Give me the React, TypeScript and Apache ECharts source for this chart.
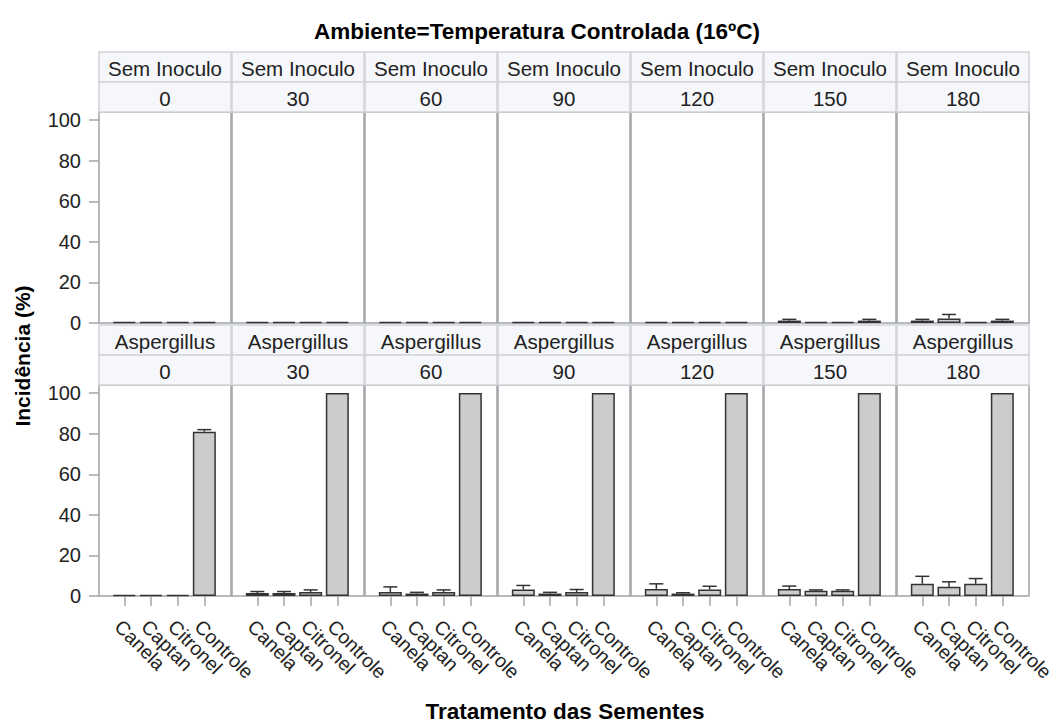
import React, { useEffect, useRef } from "react";
import * as echarts from "echarts";

const titulo = "Ambiente=Temperatura Controlada (16ºC)";
const tituloX = "Tratamento das Sementes";
const tituloY = "Incidência (%)";
const dias = [0, 30, 60, 90, 120, 150, 180];
const inoculos = ["Sem Inoculo", "Aspergillus"];
const tratamentos = ["Canela", "Captan", "Citronel", "Controle"];
const yTicks = [0, 20, 40, 60, 80, 100];

// médias por dia (linhas) e tratamento (colunas)
const semInoculoMedia = [
  [0, 0, 0, 0],
  [0, 0, 0, 0],
  [0, 0, 0, 0],
  [0, 0, 0, 0],
  [0, 0, 0, 0],
  [1.2, 0, 0, 1.2],
  [1.2, 2.2, 0, 1.2],
];
// limite superior das barras de erro
const semInoculoSup = [
  [0, 0, 0, 0],
  [0, 0, 0, 0],
  [0, 0, 0, 0],
  [0, 0, 0, 0],
  [0, 0, 0, 0],
  [1.8, 0, 0, 1.8],
  [1.8, 4.2, 0, 1.8],
];
const aspergillusMedia = [
  [0, 0, 0, 81],
  [1.5, 1.5, 2, 100],
  [2, 1.2, 2, 100],
  [3.2, 1.2, 2, 100],
  [3.5, 1.2, 3.2, 100],
  [3.4, 2.6, 2.6, 100],
  [6, 4.6, 6, 100],
];
const aspergillusSup = [
  [0, 0, 0, 82],
  [2.2, 2.2, 3, 100],
  [4.5, 1.8, 3, 100],
  [5.2, 1.8, 3.2, 100],
  [6, 1.6, 4.8, 100],
  [4.9, 3, 3, 100],
  [9.7, 7, 8.6, 100],
];

const FONT = "'Liberation Sans', Arial, sans-serif";
const LEFT0 = 99;
const PANEL_W = 133;
const ROW_TOPS = [112, 385];
const HEADER_TOPS = [52, 325];
const PLOT_H = 211;
const FRAME = "#a0a4a8";
const TICK = "#a3a7ab";
const X_MIN = -0.95;
const X_MAX = 4.0;

export default function App() {
  const ref = useRef<HTMLDivElement>(null);
  useEffect(() => {
    if (!ref.current) return;
    const chart = echarts.init(ref.current, null, { renderer: "svg" });
    const grids: any[] = [];
    const xAxes: any[] = [];
    const labelAxes: any[] = [];
    const yAxes: any[] = [];
    const series: any[] = [];
    const graphics: any[] = [];
    const medias = [semInoculoMedia, aspergillusMedia];
    const sups = [semInoculoSup, aspergillusSup];

    for (let r = 0; r < 2; r++) {
      for (let c = 0; c < dias.length; c++) {
        const k = r * dias.length + c;
        const left = LEFT0 + PANEL_W * c;
        grids.push({
          left,
          top: ROW_TOPS[r],
          width: PANEL_W - 1,
          height: PLOT_H,
          show: true,
          borderColor: FRAME,
          borderWidth: 1.5,
          backgroundColor: "#ffffff",
          containLabel: false,
          outerBoundsMode: "none",
        });
        xAxes.push({
          gridIndex: k,
          type: "value",
          min: X_MIN,
          max: X_MAX,
          axisLine: { show: false, onZero: false },
          splitLine: { show: false },
          axisTick: { show: false },
          axisLabel: { show: false },
        });
        if (r === 1) {
          // one axis per treatment so that no label is hidden as overlapping
          tratamentos.forEach((nome, i) => {
            labelAxes.push({
              gridIndex: k,
              type: "value",
              position: "bottom",
              min: X_MIN,
              max: X_MAX,
              axisLine: { show: false, onZero: false },
              splitLine: { show: false },
              axisTick: {
                show: true,
                customValues: [i],
                length: 10,
                lineStyle: { color: TICK, width: 1.5 },
              },
              axisLabel: {
                show: true,
                customValues: [i],
                formatter: () => nome,
                rotate: -45,
                margin: 21,
                verticalAlign: "top",
                lineHeight: 17,
                fontSize: 19.5,
                fontFamily: FONT,
                color: "#222",
                showMinLabel: true,
                showMaxLabel: true,
              },
            });
          });
        }
        yAxes.push({
          gridIndex: k,
          type: "value",
          min: 0,
          max: 104,
          axisLine: { show: false, onZero: false },
          splitLine: { show: false },
          axisTick: {
            show: c === 0,
            customValues: yTicks,
            length: 10,
            lineStyle: { color: TICK, width: 1.5 },
          },
          axisLabel: {
            show: c === 0,
            customValues: yTicks,
            margin: 18,
            fontSize: 20,
            fontFamily: FONT,
            color: "#222",
          },
        });
        const med = medias[r][c];
        const sup = sups[r][c];
        series.push({
          type: "bar",
          xAxisIndex: k,
          yAxisIndex: k,
          barWidth: 23,
          barMinHeight: 1,
          data: med.map((v, i) => [i, v]),
          itemStyle: { color: "#cccccc", borderColor: "#333333", borderWidth: 1.5 },
          silent: true,
        });
        series.push({
          type: "custom",
          xAxisIndex: k,
          yAxisIndex: k,
          z: 3,
          data: med.map((v, i) => [i, v, sup[i]]),
          encode: { x: 0, y: [1, 2] },
          renderItem: (_p: any, api: any) => {
            const x = api.value(0);
            const m = api.value(1);
            const u = api.value(2);
            if (!(u > m)) return { type: "group", children: [] };
            const p0 = api.coord([x, m]);
            const p1 = api.coord([x, u]);
            const st = { stroke: "#333333", lineWidth: 1.5 };
            return {
              type: "group",
              children: [
                { type: "line", shape: { x1: p0[0], y1: p0[1], x2: p1[0], y2: p1[1] }, style: st },
                { type: "line", shape: { x1: p1[0] - 7, y1: p1[1], x2: p1[0] + 7, y2: p1[1] }, style: st },
              ],
            };
          },
          silent: true,
        });
        // cabeçalhos
        const ht = HEADER_TOPS[r];
        const labels = [inoculos[r], String(dias[c])];
        for (let h = 0; h < 2; h++) {
          graphics.push({
            type: "rect",
            shape: { x: left, y: ht + h * 30, width: PANEL_W - 1, height: 30 },
            style: { fill: "#f6f7fb", stroke: "#d2d4d8", lineWidth: 1.5 },
            silent: true,
          });
          graphics.push({
            type: "text",
            x: left + (PANEL_W - 1) / 2,
            y: ht + h * 30 + 16,
            style: {
              text: labels[h],
              fill: "#222",
              fontSize: 20.5,
              fontFamily: FONT,
              align: "center",
              verticalAlign: "middle",
            },
            silent: true,
          });
        }
      }
    }

    graphics.push({
      type: "text",
      x: 537,
      y: 31,
      style: {
        text: titulo,
        fill: "#000",
        fontSize: 22.5,
        fontWeight: "bold",
        fontFamily: FONT,
        align: "center",
        verticalAlign: "middle",
      },
    });
    graphics.push({
      type: "text",
      x: 565,
      y: 711,
      style: {
        text: tituloX,
        fill: "#000",
        fontSize: 22.5,
        fontWeight: "bold",
        fontFamily: FONT,
        align: "center",
        verticalAlign: "middle",
      },
    });
    graphics.push({
      type: "text",
      x: 22,
      y: 356,
      rotation: Math.PI / 2,
      style: {
        text: tituloY,
        fill: "#000",
        fontSize: 21,
        fontWeight: "bold",
        fontFamily: FONT,
        align: "center",
        verticalAlign: "middle",
      },
    });

    chart.setOption({
      animation: false,
      backgroundColor: "#ffffff",
      grid: grids,
      xAxis: [...xAxes, ...labelAxes],
      yAxis: yAxes,
      series,
      graphic: graphics,
    });
    return () => chart.dispose();
  }, []);
  return (
    <div
      ref={ref}
      style={{ position: "fixed", left: 0, top: 0, width: 1053, height: 722 }}
    />
  );
}
